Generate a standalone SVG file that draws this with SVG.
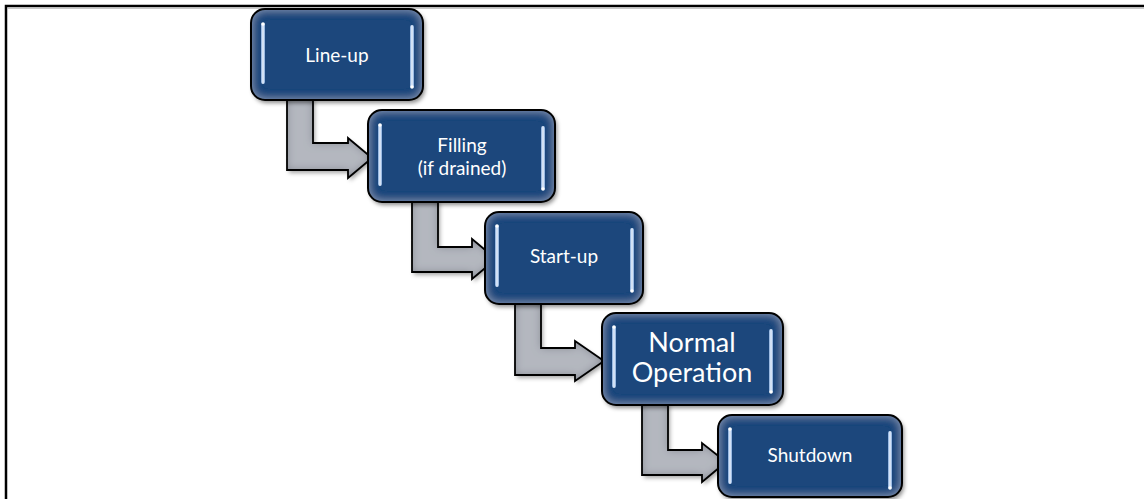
<svg xmlns="http://www.w3.org/2000/svg" width="1144" height="499" viewBox="0 0 1144 499">
<defs>
  <filter id="boxfx" x="-10%" y="-10%" width="125%" height="130%">
    <feGaussianBlur in="SourceAlpha" stdDeviation="5" result="blur"/>
    <feComposite in="SourceAlpha" in2="blur" operator="out" result="edge"/>
    <feFlood flood-color="#9db3d0" flood-opacity="0.75"/>
    <feComposite in2="edge" operator="in" result="glow"/>
    <feGaussianBlur in="SourceAlpha" stdDeviation="2" result="sb"/>
    <feOffset in="sb" dx="2" dy="3" result="so"/>
    <feFlood flood-color="#000" flood-opacity="0.45"/>
    <feComposite in2="so" operator="in" result="shadow"/>
    <feMerge><feMergeNode in="shadow"/><feMergeNode in="SourceGraphic"/><feMergeNode in="glow"/></feMerge>
  </filter>
  <filter id="arrowfx" x="-10%" y="-10%" width="130%" height="130%">
    <feGaussianBlur in="SourceAlpha" stdDeviation="4" result="blur"/>
    <feComposite in="SourceAlpha" in2="blur" operator="out" result="edge"/>
    <feFlood flood-color="#6c707a" flood-opacity="0.8"/>
    <feComposite in2="edge" operator="in" result="dark"/>
    <feGaussianBlur in="SourceAlpha" stdDeviation="2" result="sb"/>
    <feOffset in="sb" dx="2" dy="3" result="so"/>
    <feFlood flood-color="#000" flood-opacity="0.35"/>
    <feComposite in2="so" operator="in" result="shadow"/>
    <feMerge><feMergeNode in="shadow"/><feMergeNode in="SourceGraphic"/><feMergeNode in="dark"/></feMerge>
  </filter>
  <linearGradient id="bar" x1="0" y1="0" x2="1" y2="0">
    <stop offset="0" stop-color="#7fa6d8"/>
    <stop offset="0.5" stop-color="#eef5ff"/>
    <stop offset="1" stop-color="#7fa6d8"/>
  </linearGradient>
</defs>
<style>
  .frame{fill:none;stroke:#000;stroke-width:2.5}
  .bfill{fill:#1f477c;filter:url(#boxfx)}
  .bline{fill:none;stroke:#000;stroke-width:2}
  .bar{fill:url(#bar)}
  .dot{fill:#ffffff}
  .afill{fill:#b4b7bf;filter:url(#arrowfx)}
  .aline{fill:none;stroke:#000;stroke-width:1.8;stroke-linejoin:miter}
  .t{fill:#ffffff;font-family:Lato,"Open Sans","Liberation Sans",sans-serif;text-anchor:middle}
  .s{font-size:19px}
  .l{font-size:27px}
</style>
<rect width="1144" height="499" fill="#fff"/>
<path class="frame" d="M6,499 L6,6 L1144,6"/>
<line x1="7" y1="8.3" x2="1144" y2="8.3" stroke="#bbb" stroke-width="1"/>

<g id="connectors">
  <path class="afill" d="M287,98 L313,98 L313,143 L348,143 L348,138 L372,158 L348,178 L348,170 L287,170 Z"/>
  <path class="aline" d="M287,98 L313,98 L313,143 L348,143 L348,138 L372,158 L348,178 L348,170 L287,170 Z"/>
  <path class="afill" d="M412,200 L438,200 L438,247 L472,247 L472,239 L496,259 L472,279 L472,272 L412,272 Z"/>
  <path class="aline" d="M412,200 L438,200 L438,247 L472,247 L472,239 L496,259 L472,279 L472,272 L412,272 Z"/>
  <path class="afill" d="M515,302 L541,302 L541,348 L575,348 L575,341 L604,361 L575,381 L575,375 L515,375 Z"/>
  <path class="aline" d="M515,302 L541,302 L541,348 L575,348 L575,341 L604,361 L575,381 L575,375 L515,375 Z"/>
  <path class="afill" d="M642,403 L668,403 L668,450 L702,450 L702,443 L726,462 L702,482 L702,475 L642,475 Z"/>
  <path class="aline" d="M642,403 L668,403 L668,450 L702,450 L702,443 L726,462 L702,482 L702,475 L642,475 Z"/>
</g>

<g id="node-lineup">
  <rect class="bfill" x="251" y="9" width="172" height="91" rx="14"/>
  <rect class="bline" x="251" y="9" width="172" height="91" rx="14"/>
  <rect class="bar" x="261" y="23" width="4" height="61" rx="2"/>
  <rect class="bar" x="410" y="25" width="4" height="63" rx="2"/>
  <circle class="dot" cx="263" cy="24" r="1.8"/>
  <circle class="dot" cx="412" cy="87" r="1.8"/>
  <text class="t s" x="337" y="62">Line-up</text>
</g>

<g id="node-filling">
  <rect class="bfill" x="368" y="110" width="187" height="92" rx="14"/>
  <rect class="bline" x="368" y="110" width="187" height="92" rx="14"/>
  <rect class="bar" x="378" y="124" width="4" height="62" rx="2"/>
  <rect class="bar" x="541" y="126" width="4" height="64" rx="2"/>
  <circle class="dot" cx="380" cy="125" r="1.8"/>
  <circle class="dot" cx="543" cy="189" r="1.8"/>
  <text class="t s" x="462" y="152">Filling</text>
  <text class="t s" x="462" y="175">(if drained)</text>
</g>

<g id="node-startup">
  <rect class="bfill" x="485" y="212" width="158" height="92" rx="14"/>
  <rect class="bline" x="485" y="212" width="158" height="92" rx="14"/>
  <rect class="bar" x="495" y="225" width="4" height="62" rx="2"/>
  <rect class="bar" x="630" y="228" width="4" height="64" rx="2"/>
  <circle class="dot" cx="497" cy="226" r="1.8"/>
  <circle class="dot" cx="632" cy="291" r="1.8"/>
  <text class="t s" x="564" y="263">Start-up</text>
</g>

<g id="node-normal">
  <rect class="bfill" x="602" y="313" width="181" height="92" rx="14"/>
  <rect class="bline" x="602" y="313" width="181" height="92" rx="14"/>
  <rect class="bar" x="612" y="326" width="4" height="62" rx="2"/>
  <rect class="bar" x="769" y="329" width="4" height="64" rx="2"/>
  <circle class="dot" cx="614" cy="327" r="1.8"/>
  <circle class="dot" cx="771" cy="392" r="1.8"/>
  <text class="t l" x="692" y="352">Normal</text>
  <text class="t l" x="692" y="382">Operation</text>
</g>

<g id="node-shutdown">
  <rect class="bfill" x="718" y="415" width="184" height="82" rx="14"/>
  <rect class="bline" x="718" y="415" width="184" height="82" rx="14"/>
  <rect class="bar" x="728" y="428" width="4" height="56" rx="2"/>
  <rect class="bar" x="888" y="431" width="4" height="58" rx="2"/>
  <circle class="dot" cx="730" cy="429" r="1.8"/>
  <circle class="dot" cx="890" cy="488" r="1.8"/>
  <text class="t s" x="810" y="462">Shutdown</text>
</g>
</svg>
